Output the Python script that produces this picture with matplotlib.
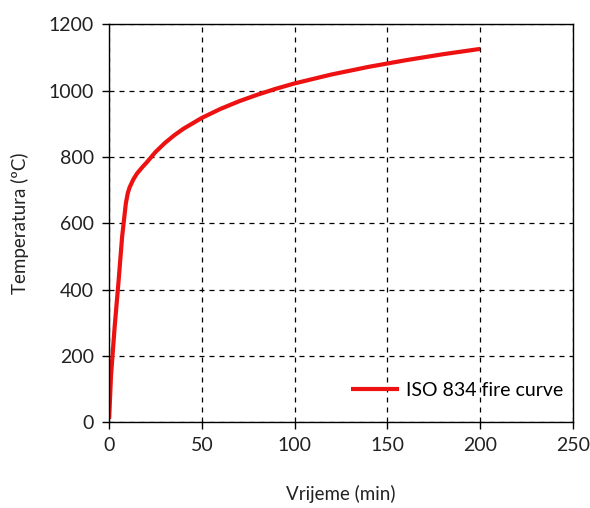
import matplotlib.pyplot as plt

plt.rcParams['font.family'] = ['Lato', 'DejaVu Sans']

# time (min) and temperature (C)
time_min = [0, 1, 3, 5, 7, 9, 10, 11, 13, 15, 18, 20, 25, 30, 35, 40, 50, 60, 70, 80,
            90, 100, 120, 140, 160, 180, 200]
temp_c = [10, 140, 290, 420, 560, 660, 690, 708, 732, 750, 770, 782, 815, 842, 865, 885,
          918, 945, 968, 988, 1006, 1022, 1049, 1072, 1092, 1110, 1126]

x_ticks = [0, 50, 100, 150, 200, 250]
y_ticks = [0, 200, 400, 600, 800, 1000, 1200]

fig = plt.figure(figsize=(5.9, 5.08), dpi=100)
ax = fig.add_axes([0.185, 0.169, 0.786, 0.783])

ax.plot(time_min, temp_c, color='#ee1111', linewidth=3, solid_capstyle='butt',
        solid_joinstyle='round', label='ISO 834 fire curve')

ax.set_xlim(0, 250)
ax.set_ylim(0, 1200)
ax.set_xticks(x_ticks)
ax.set_yticks(y_ticks)
ax.grid(True, color='black', linestyle=(0, (4, 4)), linewidth=0.9)
ax.set_axisbelow(True)

for s in ax.spines.values():
    s.set_color('black')
    s.set_linewidth(1.0)
ax.tick_params(direction='out', length=5, width=1, labelsize=14, pad=6,
               colors='black', labelcolor='#222222')

ax.set_xlabel('Vrijeme (min)', fontsize=13.5, labelpad=22, color='#222222')
ax.set_ylabel('Temperatura (ºC)', fontsize=13.5, labelpad=14, color='#222222')

ax.legend(loc='lower right', bbox_to_anchor=(1.0, 0.035), frameon=False, fontsize=14,
          handlelength=2.5, handletextpad=0.35, borderaxespad=0.1)

fig.savefig('out.png', dpi=100)
